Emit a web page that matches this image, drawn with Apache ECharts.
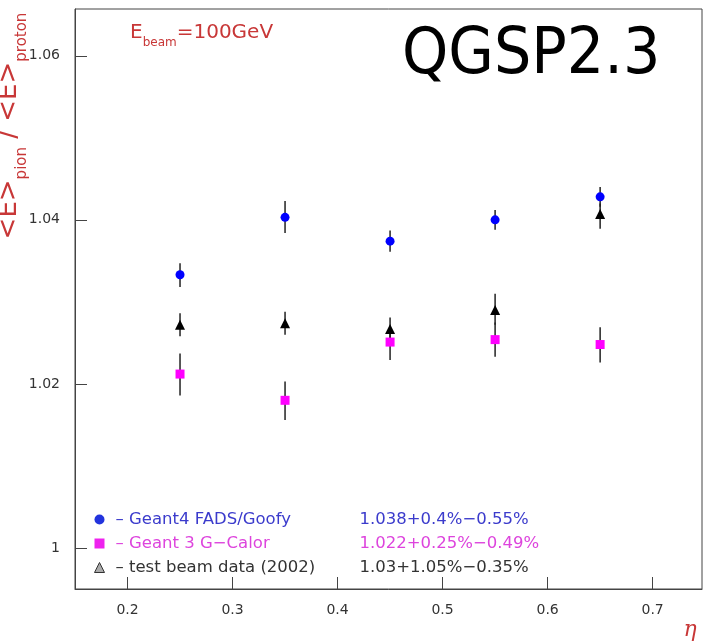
<!DOCTYPE html>
<html>
<head>
<meta charset="utf-8">
<script src="https://cdn.jsdelivr.net/npm/echarts@6/dist/echarts.min.js"></script>
<style>html,body{margin:0;padding:0;background:#fff;}#c{width:704px;height:641px;}</style>
</head>
<body>
<div id="c"></div>
<script>
const eta = [0.25, 0.35, 0.45, 0.55, 0.65];
const xTicks = [0.2, 0.3, 0.4, 0.5, 0.6, 0.7];
const yTicks = [1.00, 1.02, 1.04, 1.06];

const g4Name = 'Geant4 FADS/Goofy';
const g4Val = [1.0333, 1.0403, 1.0374, 1.0400, 1.0428];
const g4Hi  = [1.0347, 1.0423, 1.0387, 1.0412, 1.0440];
const g4Lo  = [1.0318, 1.0384, 1.0361, 1.0388, 1.0416];
const g4Fit = '1.038+0.4%\u22120.55%';

const g3Name = 'Geant 3 G\u2212Calor';
const g3Val = [1.0212, 1.0180, 1.0251, 1.0254, 1.0248];
const g3Hi  = [1.0237, 1.0203, 1.0264, 1.0275, 1.0269];
const g3Lo  = [1.0186, 1.0156, 1.0229, 1.0233, 1.0226];
const g3Fit = '1.022+0.25%\u22120.49%';

const tbName = 'test beam data (2002)';
const tbVal = [1.0272, 1.0274, 1.0267, 1.0290, 1.0407];
const tbHi  = [1.0286, 1.0288, 1.0281, 1.0310, 1.0420];
const tbLo  = [1.0258, 1.0260, 1.0253, 1.0272, 1.0389];
const tbFit = '1.03+1.05%\u22120.35%';

const RED = '#c83737';
const FONT = 'DejaVu Sans';

function pts(v) { return eta.map((x, i) => [x, v[i]]); }
function errs(lo, hi) { return eta.map((x, i) => [x, lo[i], hi[i]]); }

function errSeries(lo, hi) {
  return {
    type: 'custom',
    silent: true,
    z: 1,
    data: errs(lo, hi),
    encode: { x: 0, y: [1, 2] },
    renderItem: function (params, api) {
      const a = api.coord([api.value(0), api.value(1)]);
      const b = api.coord([api.value(0), api.value(2)]);
      return {
        type: 'line',
        shape: { x1: a[0], y1: a[1], x2: b[0], y2: b[1] },
        style: { stroke: '#222', lineWidth: 1.5 }
      };
    }
  };
}

const fitText = {};
fitText[g4Name] = ['1', g4Fit];
fitText[g3Name] = ['2', g3Fit];
fitText[tbName] = ['3', tbFit];

const LF = 16.5;
function nameTok(c) { return { width: 244, padding: [0, 0, 0, 6], color: c, fontFamily: FONT, fontSize: LF }; }
function fitTok(c) { return { color: c, fontFamily: FONT, fontSize: LF }; }

const chart = echarts.init(document.getElementById('c'), null, { renderer: 'canvas' });
chart.setOption({
  animation: false,
  backgroundColor: '#fff',
  grid: { left: 75, right: 2, top: 9, bottom: 52, show: true, borderColor: '#444', borderWidth: 1 },
  xAxis: {
    type: 'value', min: 0.15, max: 0.747,
    axisLine: { lineStyle: { color: '#444', width: 1 } },
    axisTick: { inside: true, length: 12, customValues: xTicks, lineStyle: { color: '#444' } },
    axisLabel: { customValues: xTicks, margin: 14, color: '#333', fontFamily: FONT, fontSize: 14,
      formatter: v => v.toFixed(1) },
    splitLine: { show: false }
  },
  yAxis: {
    type: 'value', min: 0.995, max: 1.0657,
    axisLine: { show: true, lineStyle: { color: '#444', width: 1 } },
    axisTick: { show: true, inside: true, length: 12, customValues: yTicks, lineStyle: { color: '#444' } },
    axisLabel: { customValues: yTicks, margin: 15, color: '#333', fontFamily: FONT, fontSize: 14,
      formatter: v => (Math.abs(v - 1) < 1e-9 ? '1' : v.toFixed(2)) },
    splitLine: { show: false }
  },
  legend: {
    orient: 'vertical', left: 89, top: 506, itemGap: 7, itemWidth: 10, itemHeight: 10,
    selectedMode: false,
    data: [
      { name: g4Name, icon: 'circle', itemStyle: { color: '#2233dd' } },
      { name: g3Name, icon: 'rect', itemStyle: { color: '#ee22ee' } },
      { name: tbName, icon: 'triangle', itemStyle: { color: '#aaa', borderColor: '#333', borderWidth: 1 } }
    ],
    textStyle: {
      fontFamily: FONT, fontSize: LF,
      rich: {
        a1: nameTok('#3b3bcc'), b1: fitTok('#3b3bcc'),
        a2: nameTok('#dd44dd'), b2: fitTok('#dd44dd'),
        a3: nameTok('#333'), b3: fitTok('#333')
      }
    },
    formatter: function (name) {
      const f = fitText[name];
      return '{a' + f[0] + '|\u2013 ' + name + '}{b' + f[0] + '|' + f[1] + '}';
    }
  },
  series: [
    errSeries(g4Lo, g4Hi),
    errSeries(g3Lo, g3Hi),
    errSeries(tbLo, tbHi),
    { name: g4Name, type: 'scatter', symbol: 'circle', symbolSize: 9, z: 3, data: pts(g4Val), itemStyle: { color: '#0000ff', opacity: 1 } },
    { name: g3Name, type: 'scatter', symbol: 'rect', symbolSize: 9, z: 3, data: pts(g3Val), itemStyle: { color: '#ff00ff', opacity: 1 } },
    { name: tbName, type: 'scatter', symbol: 'triangle', symbolSize: 10, z: 3, data: pts(tbVal), itemStyle: { color: '#000', opacity: 1 } }
  ],
  graphic: [
    {
      type: 'text', x: 130, y: 27, z: 10,
      style: {
        text: '{m|E}{s|beam}{m|=100GeV}',
        fill: RED,
        rich: {
          m: { fontFamily: FONT, fontSize: 20, lineHeight: 22, padding: [0, 0, 6, 0], verticalAlign: 'bottom', fill: RED, color: RED },
          s: { fontFamily: FONT, fontSize: 12, lineHeight: 14, verticalAlign: 'bottom', fill: RED, color: RED }
        }
      }
    },
    {
      type: 'text', x: 16, y: 126, rotation: Math.PI / 2, z: 10,
      style: {
        text: '{m|<E>}{s|pion}{m| / <E>}{s|proton}',
        align: 'center', verticalAlign: 'middle',
        fill: RED,
        rich: {
          m: { fontFamily: FONT, fontSize: 26, lineHeight: 28, padding: [0, 0, 8, 0], verticalAlign: 'bottom', fill: RED, color: RED },
          s: { fontFamily: FONT, fontSize: 15, lineHeight: 16, verticalAlign: 'bottom', fill: RED, color: RED }
        }
      }
    },
    {
      type: 'text', x: 402, y: 56, scaleX: 0.92, z: 10,
      style: { text: 'QGSP2.3', fontFamily: FONT, fontSize: 64, fill: '#000', verticalAlign: 'middle', align: 'left' }
    },
    {
      type: 'text', x: 690, y: 630, z: 10,
      style: { text: '\u03b7', fontFamily: 'DejaVu Serif', fontStyle: 'italic', fontSize: 22, fill: RED, align: 'center', verticalAlign: 'middle' }
    }
  ]
});
</script>
</body>
</html>
